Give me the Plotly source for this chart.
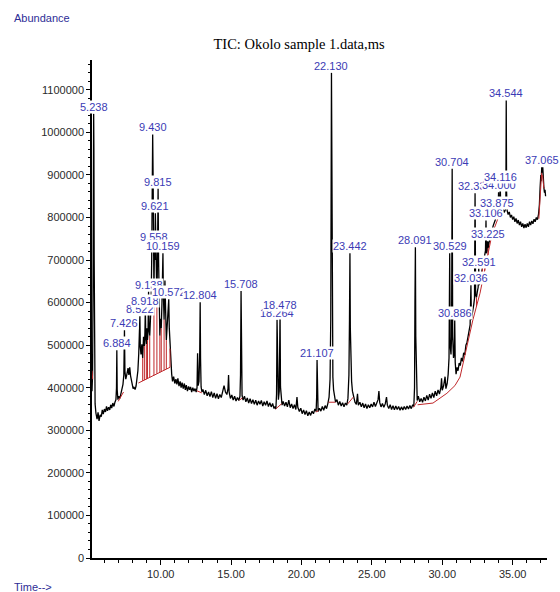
import plotly.graph_objects as go

# ---------------- data (time in min, abundance in thousands) -------------
time_min = [
    5.12, 5.16, 5.19, 5.215, 5.238, 5.255, 5.275, 5.30, 5.34, 5.40, 5.48, 5.55, 5.62, 5.70, 5.78, 5.85,
    5.92, 6.00, 6.08, 6.15, 6.22, 6.30, 6.38, 6.45, 6.52, 6.60, 6.68, 6.75, 6.82, 6.86, 6.884, 6.91,
    6.96, 7.02, 7.10, 7.18, 7.25, 7.32, 7.38, 7.426, 7.46, 7.52, 7.60, 7.68, 7.74, 7.80, 7.86, 7.92,
    7.98, 8.04, 8.10, 8.18, 8.25, 8.32, 8.38, 8.44, 8.49, 8.522, 8.55, 8.60, 8.66, 8.72, 8.78, 8.84,
    8.88, 8.91, 8.94, 8.98, 9.02, 9.06, 9.10, 9.138, 9.17, 9.22, 9.27, 9.32, 9.36, 9.40, 9.43, 9.46,
    9.49, 9.52, 9.558, 9.59, 9.621, 9.65, 9.69, 9.73, 9.77, 9.815, 9.85, 9.89, 9.94, 9.99, 10.04, 10.09,
    10.13, 10.159, 10.19, 10.24, 10.30, 10.34, 10.40, 10.45, 10.50, 10.54, 10.572, 10.61, 10.66, 10.72, 10.78, 10.84,
    10.92, 11.00, 11.08, 11.15, 11.22, 11.30, 11.38, 11.45, 11.52, 11.60, 11.68, 11.75, 11.82, 11.90, 11.98, 12.05,
    12.12, 12.20, 12.28, 12.36, 12.44, 12.52, 12.58, 12.62, 12.66, 12.72, 12.77, 12.804, 12.83, 12.87, 12.93, 13.00,
    13.10, 13.20, 13.30, 13.40, 13.50, 13.60, 13.70, 13.80, 13.90, 14.00, 14.10, 14.20, 14.30, 14.40, 14.50, 14.60,
    14.70, 14.78, 14.82, 14.86, 14.95, 15.05, 15.15, 15.25, 15.35, 15.45, 15.55, 15.63, 15.67, 15.708, 15.74, 15.78,
    15.85, 15.95, 16.05, 16.15, 16.25, 16.35, 16.45, 16.55, 16.65, 16.75, 16.85, 16.95, 17.05, 17.15, 17.25, 17.35,
    17.45, 17.55, 17.65, 17.75, 17.85, 17.95, 18.05, 18.12, 18.18, 18.23, 18.264, 18.30, 18.36, 18.42, 18.478, 18.51,
    18.56, 18.62, 18.70, 18.80, 18.90, 19.00, 19.10, 19.20, 19.30, 19.40, 19.50, 19.60, 19.68, 19.74, 19.85, 19.95,
    20.05, 20.15, 20.25, 20.35, 20.45, 20.55, 20.65, 20.75, 20.85, 20.95, 21.04, 21.08, 21.107, 21.13, 21.18, 21.28,
    21.38, 21.48, 21.58, 21.68, 21.78, 21.88, 21.96, 22.03, 22.08, 22.13, 22.16, 22.19, 22.23, 22.28, 22.34, 22.42,
    22.52, 22.62, 22.72, 22.82, 22.92, 23.02, 23.12, 23.22, 23.30, 23.37, 23.41, 23.442, 23.47, 23.51, 23.56, 23.62,
    23.70, 23.80, 23.90, 23.98, 24.04, 24.15, 24.25, 24.35, 24.45, 24.55, 24.65, 24.75, 24.85, 24.95, 25.05, 25.15,
    25.25, 25.35, 25.44, 25.50, 25.56, 25.65, 25.75, 25.85, 25.95, 26.04, 26.10, 26.20, 26.30, 26.40, 26.50, 26.60,
    26.70, 26.80, 26.90, 27.00, 27.10, 27.20, 27.30, 27.40, 27.50, 27.60, 27.70, 27.80, 27.90, 27.98, 28.03, 28.06,
    28.091, 28.12, 28.16, 28.22, 28.30, 28.40, 28.50, 28.60, 28.70, 28.80, 28.90, 29.00, 29.10, 29.20, 29.30, 29.40,
    29.50, 29.60, 29.70, 29.80, 29.90, 29.95, 30.00, 30.10, 30.20, 30.26, 30.35, 30.42, 30.48, 30.529, 30.56, 30.62,
    30.66, 30.704, 30.74, 30.80, 30.85, 30.886, 30.92, 30.98, 31.05, 31.12, 31.20, 31.28, 31.36, 31.44, 31.52, 31.60,
    31.68, 31.76, 31.84, 31.92, 31.98, 32.036, 32.07, 32.12, 32.18, 32.24, 32.29, 32.33, 32.37, 32.43, 32.49, 32.55,
    32.591, 32.63, 32.70, 32.78, 32.86, 32.94, 33.02, 33.07, 33.106, 33.14, 33.19, 33.225, 33.26, 33.33, 33.40, 33.47,
    33.54, 33.62, 33.70, 33.78, 33.84, 33.875, 33.92, 33.96, 34.00, 34.04, 34.08, 34.116, 34.16, 34.24, 34.32, 34.40,
    34.48, 34.52, 34.544, 34.57, 34.61, 34.68, 34.76, 34.84, 34.92, 35.00, 35.08, 35.16, 35.24, 35.32, 35.40, 35.48,
    35.56, 35.64, 35.72, 35.80, 35.88, 35.96, 36.04, 36.12, 36.20, 36.28, 36.36, 36.44, 36.52, 36.60, 36.68, 36.76,
    36.84, 36.90, 36.95, 37.00, 37.03, 37.065, 37.10, 37.14, 37.18, 37.22, 37.26, 37.30, 37.34,
]
abundance_k = [
    392, 430, 600, 880, 1044, 960, 700, 430, 362, 340, 326, 342, 322, 336, 332, 348,
    338, 350, 343, 356, 346, 354, 348, 360, 352, 364, 356, 366, 372, 400, 488, 395,
    372, 380, 375, 386, 392, 408, 430, 535, 438, 420, 432, 446, 430, 448, 428, 418,
    405, 398, 402, 396, 404, 418, 440, 480, 520, 568, 495, 478, 502, 470, 520, 498,
    530, 587, 520, 502, 540, 512, 532, 626, 542, 522, 560, 600, 700, 920, 995, 900,
    720, 625, 737, 700, 810, 760, 645, 600, 700, 868, 700, 580, 522, 562, 540, 600,
    650, 716, 620, 560, 652, 560, 512, 540, 562, 580, 608, 540, 492, 470, 432, 415,
    426, 410, 420, 408, 422, 404, 415, 400, 412, 398, 410, 395, 406, 392, 403, 395,
    402, 390, 400, 392, 398, 390, 400, 481, 405, 415, 480, 601, 470, 402, 390, 396,
    384, 394, 381, 390, 379, 391, 377, 388, 375, 386, 374, 384, 377, 394, 405, 390,
    384, 398, 430, 390, 375, 383, 371, 380, 369, 377, 370, 380, 430, 627, 425, 382,
    371, 380, 367, 376, 364, 374, 363, 372, 361, 371, 359, 369, 361, 370, 357, 367,
    359, 369, 356, 365, 355, 363, 351, 356, 350, 385, 560, 402, 372, 392, 578, 402,
    366, 359, 368, 357, 366, 355, 371, 353, 362, 351, 360, 349, 378, 354, 344, 352,
    339, 348, 337, 346, 334, 343, 335, 345, 339, 350, 344, 380, 465, 378, 344, 352,
    345, 356, 347, 358, 351, 364, 378, 420, 560, 1140, 780, 470, 425, 395, 378, 366,
    372, 359, 368, 357, 365, 355, 364, 359, 375, 430, 560, 716, 540, 460, 415, 392,
    377, 366, 361, 386, 359, 366, 355, 364, 353, 362, 351, 360, 353, 362, 355, 366,
    356, 364, 372, 392, 365, 355, 363, 354, 362, 378, 359, 351, 360, 349, 358, 348,
    357, 349, 356, 347, 355, 348, 356, 349, 357, 350, 358, 351, 360, 356, 400, 600,
    730, 520, 400, 370, 380, 367, 375, 366, 378, 369, 382, 371, 385, 375, 388, 377,
    392, 381, 395, 385, 400, 422, 394, 405, 426, 398, 410, 432, 470, 716, 500, 478,
    520, 915, 520, 470, 482, 558, 460, 432, 448, 440, 458, 452, 470, 462, 482, 477,
    500, 507, 522, 535, 548, 641, 560, 572, 582, 596, 610, 857, 618, 612, 625, 636,
    680, 641, 652, 668, 681, 692, 706, 722, 793, 716, 722, 744, 728, 742, 752, 766,
    772, 781, 788, 796, 801, 817, 806, 809, 859, 812, 816, 878, 818, 814, 821, 812,
    818, 850, 1075, 860, 816, 807, 813, 800, 806, 795, 802, 790, 798, 786, 794, 782,
    790, 778, 786, 775, 784, 776, 786, 778, 790, 782, 792, 785, 796, 790, 800, 795,
    808, 830, 870, 900, 885, 918, 905, 918, 880, 870, 858, 865, 850,
]

# integration baselines / drop lines (red), segments separated by None
red_time = [
    5.12, 5.17, None, 6.98, 7.36, None, 8.41, 10.66, None,
    8.72, 8.72, None, 8.84, 8.84, None, 8.98, 8.98, None, 9.06, 9.06, None,
    9.22, 9.22, None, 9.52, 9.52, None, 9.73, 9.73, None, 9.94, 9.94, None,
    10.04, 10.04, None, 10.24, 10.24, None, 10.40, 10.40, None, 10.66, 10.66, None,
    12.56, 12.92, None, 15.60, 15.80, None, 18.16, 18.58, None, 21.02, 21.20, None,
    21.92, 22.40, None, 23.28, 23.68, None, 27.96, 28.22, None,
    28.25, 29.34, 30.33, 30.90, 31.26, 31.75, 32.18, 32.68, 33.17, 33.53, 33.96, 34.31, None,
    32.43, 32.43, None, 32.86, 32.86, None, 33.02, 33.02, None, 33.26, 33.26, None,
    36.86, 37.06, None, 37.12, 37.22,
]
red_abundance_k = [
    440, 420, None, 368, 390, None, 411, 448, None,
    416, 470, None, 418, 498, None, 420, 502, None, 422, 512, None,
    424, 522, None, 429, 625, None, 433, 600, None, 436, 522, None,
    438, 540, None, 441, 560, None, 444, 512, None, 448, 492, None,
    393, 388, None, 371, 376, None, 350, 362, None, 343, 346, None,
    366, 366, None, 362, 378, None, 354, 368, None,
    360, 364, 387, 405, 425, 495, 560, 622, 699, 760, 798, 815, None,
    591, 612, None, 655, 681, None, 675, 706, None, 712, 728, None,
    797, 905, None, 900, 868,
]

# peak labels (retention time text, position, apex abundance in thousands) in drawing order
peak_labels = ["5.238", "6.884", "7.426", "8.522", "9.138", "8.918", "10.572", "9.430", "9.815",
               "9.621", "9.558", "10.159", "12.804", "15.708", "18.264", "18.478", "21.107",
               "22.130", "23.442", "28.091", "30.704", "30.529", "30.886", "32.036", "32.591",
               "33.225", "32.330", "33.106", "33.875", "34.000", "34.116", "34.544", "37.065"]
label_time = [5.238, 6.884, 7.426, 8.522, 9.138, 8.918, 10.572, 9.430, 9.815,
              9.621, 9.558, 10.159, 12.804, 15.708, 18.264, 18.478, 21.107,
              22.130, 23.442, 28.091, 30.704, 30.529, 30.886, 32.036, 32.591,
              33.225, 32.330, 33.106, 33.875, 34.000, 34.116, 34.544, 37.065]
label_abundance_k = [1044, 488, 535, 568, 626, 587, 608, 995, 868,
                     810, 737, 716, 601, 627, 560, 578, 465,
                     1140, 716, 730, 915, 716, 558, 641, 680,
                     744, 857, 793, 817, 859, 878, 1075, 918]

x_tick_vals = [10, 15, 20, 25, 30, 35]
y_tick_vals = [0, 100000, 200000, 300000, 400000, 500000, 600000, 700000, 800000, 900000, 1000000, 1100000]

# ------------------------------------------------------------------------------------------------
K = 1000
fig = go.Figure()
fig.add_trace(go.Scatter(
    x=time_min, y=[v * K for v in abundance_k], mode="lines",
    line=dict(color="black", width=1.3), hoverinfo="skip", showlegend=False))
fig.add_trace(go.Scatter(
    x=red_time, y=[None if v is None else v * K for v in red_abundance_k], mode="lines",
    line=dict(color="#c0282b", width=1), hoverinfo="skip", showlegend=False, connectgaps=False))

label_font = dict(family="Liberation Sans, Arial, sans-serif", size=11, color="#3b3bb5")
annotations = []
for txt, t, a in zip(peak_labels, label_time, label_abundance_k):
    annotations.append(dict(x=t, y=a * K, xref="x", yref="y", text=txt, showarrow=False,
                            xanchor="center", yanchor="bottom", bgcolor="white",
                            borderpad=0, font=label_font))

annotations.append(dict(x=-0.176, y=1.084, xref="paper", yref="paper", text="Abundance",
                        showarrow=False, xanchor="left", yanchor="middle",
                        font=dict(family="Liberation Sans, Arial, sans-serif", size=11, color="#2d2d96")))
annotations.append(dict(x=-0.176, y=-0.058, xref="paper", yref="paper", text="Time-->",
                        showarrow=False, xanchor="left", yanchor="middle",
                        font=dict(family="Liberation Sans, Arial, sans-serif", size=11, color="#2d2d96")))

tick_font = dict(family="Liberation Sans, Arial, sans-serif", size=11, color="#2a2a2a")
fig.update_layout(
    width=560, height=592,
    margin=dict(l=92, r=13, t=60, b=34),
    paper_bgcolor="white", plot_bgcolor="white",
    title=dict(text="TIC: Okolo sample 1.data,ms", x=0.534, y=0.926, xref="container",
               yref="container", xanchor="center", yanchor="middle",
               font=dict(family="Liberation Serif, Times New Roman, serif", size=14.5, color="black")),
    xaxis=dict(range=[5.12, 37.44], tickvals=x_tick_vals, tickformat=".2f",
               showline=True, linecolor="black", linewidth=1.5, ticks="outside",
               ticklen=5, tickwidth=1.2, tickcolor="black", showgrid=False, zeroline=False,
               tickfont=tick_font,
               minor=dict(dtick=1, tick0=0, ticks="outside", ticklen=3, tickcolor="black", tickwidth=1)),
    yaxis=dict(range=[0, 1170000], tickvals=y_tick_vals, tickformat="d",
               showline=True, linecolor="black", linewidth=1.5, ticks="outside",
               ticklen=4, tickwidth=1.2, tickcolor="black", showgrid=False, zeroline=False,
               tickfont=tick_font,
               minor=dict(dtick=20000, tick0=0, ticks="outside", ticklen=2, tickcolor="black", tickwidth=1)),
    annotations=annotations,
)

fig.write_html(
    "out.html",
    config={"displayModeBar": False},
    post_script="document.body.style.margin='0';document.body.style.overflow='hidden';"
                "document.documentElement.style.overflow='hidden';",
)
